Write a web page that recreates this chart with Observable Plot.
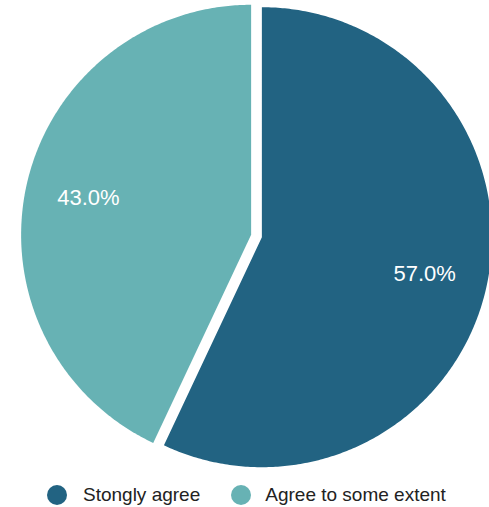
<!DOCTYPE html>
<html>
<head>
<meta charset="utf-8">
<script src="https://cdn.jsdelivr.net/npm/d3@7"></script>
<script src="https://cdn.jsdelivr.net/npm/@observablehq/plot@0.6"></script>
<style>
  html, body { margin: 0; padding: 0; background: #fff; }
  body { width: 489px; height: 507px; overflow: hidden; font-family: Helvetica, Arial, "Liberation Sans", sans-serif; }
  #chart svg { display: block; }
  .legend { display: flex; align-items: center; height: 45px; margin-left: 47px; color: #222; font-size: 19px; }
  .item { display: flex; align-items: center; }
  .sw { width: 20px; height: 20px; border-radius: 50%; margin-right: 16px; }
  .item + .item { margin-left: 31px; }
  .item + .item .sw { margin-right: 14px; }
</style>
</head>
<body>
<div id="chart"></div>
<div class="legend" id="legend"></div>
<script>
const categories = ["Stongly agree", "Agree to some extent"];
const values = [57.0, 43.0];
const colors = ["#226382", "#67b2b4"];
const labels = ["57.0%", "43.0%"];

const W = 489, H = 472;
const cx = 256, cy = 235.5, R = 230;
const explode = 5.5 / R;
const labelR = 0.725;

const total = d3.sum(values);
const slices = [];
const texts = [];
let start = 0;
values.forEach((v, i) => {
  const end = start + (v / total) * 2 * Math.PI;
  const mid = (start + end) / 2;
  const ox = explode * Math.sin(mid), oy = explode * Math.cos(mid);
  slices.push({cat: categories[i], x: ox, y: oy, k: 0});
  const n = Math.max(2, Math.ceil((end - start) / 0.01));
  for (let j = 0; j <= n; j++) {
    const a = start + (end - start) * j / n;
    slices.push({cat: categories[i], x: ox + Math.sin(a), y: oy + Math.cos(a), k: j + 1});
  }
  texts.push({cat: categories[i], label: labels[i], x: ox + labelR * Math.sin(mid), y: oy + labelR * Math.cos(mid)});
  start = end;
});

const chart = Plot.plot({
  width: W,
  height: H,
  margin: 0,
  x: {domain: [-1, 1], range: [cx - R, cx + R], axis: null},
  y: {domain: [-1, 1], range: [cy + R, cy - R], axis: null},
  color: {domain: categories, range: colors},
  style: {fontFamily: "Helvetica, Arial, 'Liberation Sans', sans-serif"},
  marks: [
    Plot.line(slices, {x: "x", y: "y", z: "cat", fill: "cat", stroke: null, curve: "linear-closed"}),
    Plot.text(texts, {x: "x", y: "y", text: "label", fill: "white", fontSize: 22})
  ]
});
document.getElementById("chart").appendChild(chart);

const legend = document.getElementById("legend");
categories.forEach((c, i) => {
  const it = document.createElement("div");
  it.className = "item";
  const sw = document.createElement("span");
  sw.className = "sw";
  sw.style.background = colors[i];
  const t = document.createElement("span");
  t.textContent = c;
  it.appendChild(sw);
  it.appendChild(t);
  legend.appendChild(it);
});
</script>
</body>
</html>
